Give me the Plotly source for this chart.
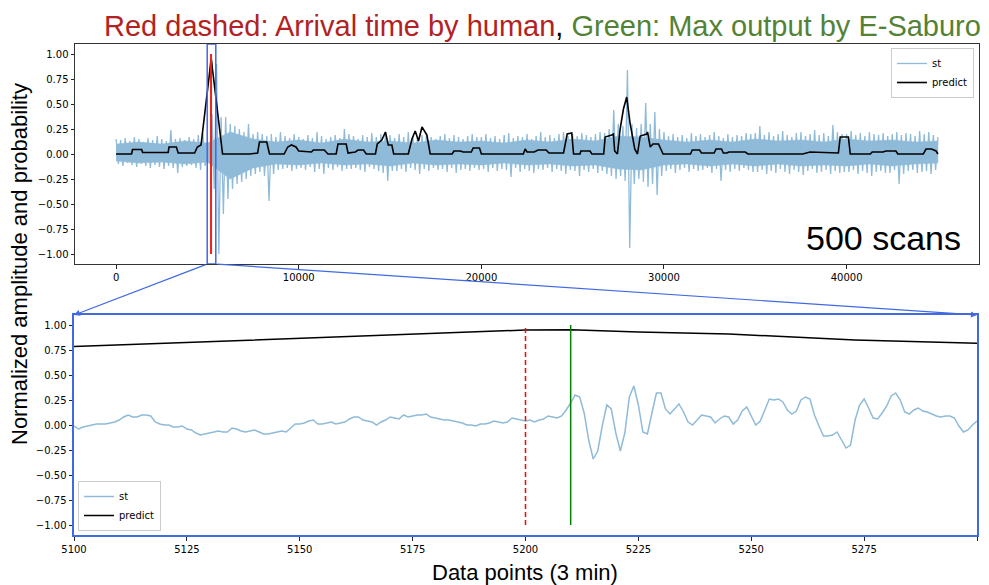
import plotly.graph_objects as go

# ---------------------------------------------------------------- data
# overview trace envelope: max / min of the normalized waveform per 250-sample block
ENV_STEP = 250
st_env_hi = [
    .15, .14, .16, .13, .17, .15, .12, .16, .14, .18, .15, .13, .24, .15, .16, .14, .17, .15, .19, .21,
    .12, .40, .90, .37, .37, .30, .28, .25, .22, .30, .20, .22, .20, .18, .20, .17, .22, .18, .16, .20,
    .17, .15, .19, .16, .22, .18, .15, .17, .19, .16, .25, .20, .18, .15, .19, .17, .21, .17, .20, .22,
    .19, .16, .20, .17, .22, .18, .16, .19, .21, .17, .15, .18, .20, .16, .19, .17, .15, .18, .20, .17,
    .17, .20, .16, .18, .15, .19, .21, .16, .18, .17, .20, .15, .18, .22, .17, .19, .16, .20, .22, .18,
    .20, .18, .21, .19, .17, .20, .22, .21, .25, .44, .30, .28, .84, .30, .26, .30, .51, .30, .42, .25,
    .22, .18, .20, .17, .19, .16, .21, .18, .20, .17, .19, .22, .18, .16, .20, .17, .19, .18, .21, .20,
    .21, .28, .19, .22, .18, .20, .23, .19, .17, .21, .22, .18, .20, .24, .19, .21, .18, .29, .22, .20,
    .20, .23, .19, .21, .18, .22, .20, .19, .21, .18, .20, .22, .19, .21, .20, .18, .23, .20, .22, .19,
    .17,
]
st_env_lo = [
    -.10, -.12, -.09, -.11, -.13, -.10, -.12, -.14, -.11, -.13, -.15, -.12, -.14, -.19, -.13, -.12, -.11, -.14, -.16, -.12,
    -.10, -.35, -1.0, -.60, -.45, -.35, -.30, -.28, -.25, -.22, -.20, -.18, -.22, -.47, -.20, -.16, -.15, -.14, -.17, -.15,
    -.14, -.16, -.13, -.18, -.15, -.20, -.14, -.16, -.13, -.17, -.15, -.15, -.14, -.16, -.18, -.13, -.15, -.17, -.19, -.27,
    -.17, -.17, -.15, -.18, -.14, -.16, -.20, -.15, -.17, -.14, -.16, -.15, -.18, -.14, -.19, -.16, -.15, -.17, -.14, -.16,
    -.15, -.18, -.14, -.17, -.15, -.16, -.23, -.14, -.18, -.15, -.17, -.19, -.15, -.16, -.14, -.18, -.15, -.17, -.20, -.16,
    -.17, -.22, -.16, -.18, -.15, -.19, -.17, -.20, -.22, -.25, -.22, -.27, -.94, -.30, -.25, -.28, -.33, -.30, -.41, -.22,
    -.17, -.15, -.19, -.16, -.14, -.18, -.15, -.17, -.16, -.14, -.19, -.15, -.27, -.16, -.18, -.15, -.17, -.14, -.16, -.18,
    -.18, -.16, -.20, -.17, -.19, -.15, -.18, -.20, -.16, -.18, -.21, -.17, -.15, -.19, -.18, -.16, -.20, -.17, -.19, -.18,
    -.18, -.16, -.20, -.17, -.19, -.22, -.18, -.17, -.19, -.19, -.16, -.30, -.20, -.17, -.16, -.19, -.18, -.17, -.20, -.16,
]

# dense part of the overview waveform (level reached by most samples), every 1250 samples
CORE_STEP = 1250
st_core_hi = [
    .10, .12, .10, .13, .11, .22, .15, .12, .14, .11, .15, .12, .13, .11, .14, .12, .13, .11, .14,
    .12, .15, .13, .18, .17, .14, .12, .14, .12, .15, .13, .14, .12, .15, .13, .14, .12, .13,
]
st_core_lo = [
    -.07, -.09, -.08, -.10, -.08, -.25, -.14, -.10, -.11, -.09, -.11, -.10, -.12, -.09, -.11, -.10, -.11, -.09, -.11,
    -.10, -.12, -.11, -.15, -.16, -.11, -.10, -.12, -.10, -.12, -.10, -.12, -.11, -.12, -.10, -.12, -.10, -.09,
]

# detailed waveform, samples 5100 .. 5300
detail_start = 5100
st_detail = [
    -0.01, -0.04, -0.02, -0.01, 0.00, 0.01, 0.01, 0.01, 0.02, 0.03,
    0.05, 0.08, 0.10, 0.08, 0.08, 0.10, 0.10, 0.09, 0.03, 0.01,
    0.00, 0.00, -0.02, -0.02, -0.01, -0.04, -0.05, -0.08, -0.10, -0.09,
    -0.08, -0.07, -0.06, -0.07, -0.07, -0.03, -0.04, -0.06, -0.07, -0.06,
    -0.05, -0.07, -0.09, -0.09, -0.08, -0.07, -0.06, -0.07, -0.03, 0.01,
    0.01, 0.02, 0.04, 0.05, 0.01, 0.01, 0.02, 0.03, 0.01, 0.02,
    0.03, 0.06, 0.08, 0.08, 0.05, 0.04, 0.03, 0.00, 0.03, 0.05,
    0.08, 0.07, 0.06, 0.10, 0.08, 0.09, 0.10, 0.10, 0.11, 0.08,
    0.07, 0.06, 0.05, 0.05, 0.04, 0.03, 0.02, 0.00, 0.00, -0.01,
    0.01, 0.01, 0.02, 0.04, 0.03, 0.02, 0.03, 0.07, 0.06, 0.05,
    0.04, 0.05, 0.03, 0.05, 0.06, 0.09, 0.08, 0.07, 0.09, 0.15,
    0.22, 0.30, 0.28, 0.12, -0.15, -0.34, -0.26, -0.01, 0.20, 0.16,
    -0.08, -0.26, -0.08, 0.28, 0.39, 0.20, -0.07, -0.09, 0.12, 0.32,
    0.32, 0.16, 0.11, 0.16, 0.21, 0.13, 0.03, 0.00, 0.05, 0.10,
    0.09, 0.08, 0.02, 0.06, 0.09, 0.08, 0.01, 0.05, 0.14, 0.18,
    0.09, 0.00, 0.04, 0.15, 0.26, 0.25, 0.26, 0.23, 0.15, 0.11,
    0.14, 0.25, 0.28, 0.26, 0.10, -0.01, -0.11, -0.11, -0.10, -0.07,
    -0.15, -0.23, -0.20, 0.05, 0.20, 0.26, 0.17, 0.07, 0.06, 0.12,
    0.19, 0.29, 0.32, 0.25, 0.13, 0.11, 0.15, 0.17, 0.14, 0.13,
    0.11, 0.09, 0.08, 0.09, 0.09, 0.07, -0.01, -0.07, -0.05, 0.00,
    0.04,
]

# network output (probability), sample index -> value
pred_x = [
    0, 850, 900, 1400, 1450, 2850, 2900, 3300, 3400, 4300, 4450, 4650,
    5100, 5150, 5175, 5200, 5210, 5225, 5245, 5273, 5300, 5830,
    7300, 7750, 7850, 8250, 8400, 9200, 9400, 9600, 9850, 10000,
    10700, 10800, 11400, 11600, 12050, 12150, 12600, 12700, 13100, 13250,
    13550, 13700, 14200, 14300, 14550, 14750, 14900, 15100, 15200, 16000,
    16200, 16380, 16560, 16750, 17020, 17200, 18400, 18500, 18850, 19000,
    19450, 19550, 19900, 20000, 22300, 22400, 22500, 22900, 23100, 23550,
    23700, 24500, 24700, 24950, 25050, 25400, 25450, 25950, 26050, 26700,
    26780, 27140, 27230, 27300, 27450, 27600, 27780, 27960, 28150, 28400,
    28550, 28700, 29050, 29100, 29250, 29400, 29700, 29950, 31450, 31550,
    31950, 32050, 32750, 32850, 33150, 33250, 33450, 33550, 34450, 34600,
    37600, 38000, 39550, 39650, 40100, 40200, 41300, 41400, 42000, 42150,
    42700, 42800, 44200, 44350, 44650, 44900, 45000,
]
pred_y = [
    0.0, 0.0, 0.045, 0.045, 0.015, 0.015, 0.07, 0.07, 0.01, 0.01, 0.07, 0.09,
    0.784, 0.867, 0.91, 0.95, 0.953, 0.93, 0.91, 0.85, 0.817, 0.0,
    0.0, 0.01, 0.12, 0.12, 0.0, 0.0, 0.07, 0.09, 0.07, 0.03,
    0.02, 0.04, 0.04, 0.0, 0.0, 0.10, 0.10, 0.01, 0.02, 0.04,
    0.04, 0.0, 0.0, 0.10, 0.14, 0.22, 0.09, 0.09, 0.0, 0.0,
    0.15, 0.23, 0.13, 0.27, 0.19, 0.0, 0.0, 0.03, 0.03, 0.02,
    0.02, 0.06, 0.06, 0.0, 0.0, 0.05, 0.02, 0.02, 0.04, 0.04,
    0.01, 0.01, 0.20, 0.21, 0.0, 0.0, 0.03, 0.03, 0.0, 0.0,
    0.17, 0.19, 0.20, 0.03, 0.0, 0.25, 0.45, 0.57, 0.30, 0.05,
    0.0, 0.18, 0.20, 0.22, 0.07, 0.10, 0.10, 0.0, 0.0, 0.04,
    0.04, 0.01, 0.01, 0.05, 0.05, 0.01, 0.01, 0.02, 0.02, 0.0,
    0.0, 0.02, 0.01, 0.17, 0.17, 0.0, 0.0, 0.02, 0.02, 0.03,
    0.03, 0.0, 0.0, 0.05, 0.05, 0.03, 0.0,
]

arrival_human = 5200      # manual pick
max_output = 5210         # sample of maximum network output
marker_span = [-1.0, 1.0]

top_xticks = [0, 10000, 20000, 30000, 40000]
bottom_xticks = [5100, 5125, 5150, 5175, 5200, 5225, 5250, 5275, 5300]
yticks = [-1.0, -0.75, -0.5, -0.25, 0.0, 0.25, 0.5, 0.75, 1.0]

# ---------------------------------------------------------------- style
W, H = 989, 585
ST_COLOR = "#8fbbd9"
BOX_COLOR = "royalblue"
TICK_FONT = dict(family="DejaVu Sans", size=10, color="black")
TEXT_FONT = "Liberation Sans, Arial, sans-serif"

top_dom_x = [75 / W, 979 / W]
top_dom_y = [1 - 264 / H, 1 - 44 / H]
bot_dom_x = [74 / W, 977 / W]
bot_dom_y = [1 - 535 / H, 1 - 315 / H]
top_range_x = [-2250, 47250]
bot_range_x = [5100, 5300]
y_range = [-1.1, 1.1]
inset_box = (4990, 5460)

# ---------------------------------------------------------------- traces
half = ENV_STEP // 2
hi_x = [i * ENV_STEP for i in range(len(st_env_hi))]
lo_x = [i * ENV_STEP + half for i in range(len(st_env_lo))]

# zig-zag through the block extremes
ov_x, ov_y = [], []
for i, hi in enumerate(st_env_hi):
    ov_x.append(hi_x[i])
    ov_y.append(hi)
    if i < len(st_env_lo):
        ov_x.append(lo_x[i])
        ov_y.append(st_env_lo[i])

# solid dense band
core_x = [i * CORE_STEP for i in range(len(st_core_hi))]
band_x = core_x + core_x[::-1]
band_y = st_core_hi + st_core_lo[::-1]

detail_x = [detail_start + i for i in range(len(st_detail))]

fig = go.Figure()

# overview panel
fig.add_trace(go.Scatter(x=band_x, y=band_y, mode="lines", fill="toself",
                         fillcolor=ST_COLOR, line=dict(color=ST_COLOR, width=0.5),
                         showlegend=False, hoverinfo="skip", xaxis="x", yaxis="y"))
fig.add_trace(go.Scatter(x=ov_x, y=ov_y, mode="lines", name="st",
                         line=dict(color=ST_COLOR, width=1.3, simplify=False),
                         xaxis="x", yaxis="y", legend="legend"))
fig.add_trace(go.Scatter(x=pred_x, y=pred_y, mode="lines", name="predict",
                         line=dict(color="black", width=1.6, simplify=False),
                         xaxis="x", yaxis="y", legend="legend"))
fig.add_trace(go.Scatter(x=[max_output, max_output], y=marker_span, mode="lines",
                         line=dict(color="green", width=1.5), showlegend=False,
                         xaxis="x", yaxis="y", hoverinfo="skip"))
fig.add_trace(go.Scatter(x=[arrival_human, arrival_human], y=marker_span, mode="lines",
                         line=dict(color="#f02020", width=2), showlegend=False,
                         xaxis="x", yaxis="y", hoverinfo="skip"))

# zoomed panel
fig.add_trace(go.Scatter(x=detail_x, y=st_detail, mode="lines", name="st",
                         line=dict(color=ST_COLOR, width=1.5, simplify=False),
                         xaxis="x2", yaxis="y2", legend="legend2"))
fig.add_trace(go.Scatter(x=pred_x, y=pred_y, mode="lines", name="predict",
                         line=dict(color="black", width=1.5),
                         xaxis="x2", yaxis="y2", legend="legend2"))
fig.add_trace(go.Scatter(x=[arrival_human, arrival_human], y=marker_span, mode="lines",
                         line=dict(color="red", width=1.5, dash="5px,3px"), showlegend=False,
                         xaxis="x2", yaxis="y2", hoverinfo="skip"))
fig.add_trace(go.Scatter(x=[max_output, max_output], y=marker_span, mode="lines",
                         line=dict(color="green", width=1.5), showlegend=False,
                         xaxis="x2", yaxis="y2", hoverinfo="skip"))

# ---------------------------------------------------------------- axes
common = dict(showgrid=False, zeroline=False, ticks="outside", ticklen=3.5,
              tickwidth=1, tickcolor="#222", tickfont=TICK_FONT, showline=True,
              mirror=True, automargin=False)

fig.update_layout(
    width=W, height=H,
    margin=dict(l=0, r=0, t=0, b=0),
    paper_bgcolor="white", plot_bgcolor="white",
    xaxis=dict(domain=top_dom_x, range=top_range_x, tickvals=top_xticks, tickformat="d",
               anchor="y", linecolor="#333", linewidth=1, **common),
    yaxis=dict(domain=top_dom_y, range=y_range, tickvals=yticks, tickformat=".2f",
               anchor="x", linecolor="#333", linewidth=1, **common),
    xaxis2=dict(domain=bot_dom_x, range=[bot_range_x[0] - 1e-3, bot_range_x[1] + 1e-3],
                tickvals=bottom_xticks, tickformat="d",
                anchor="y2", linecolor=BOX_COLOR, linewidth=2, **common),
    yaxis2=dict(domain=bot_dom_y, range=y_range, tickvals=yticks, tickformat=".2f",
                anchor="x2", linecolor=BOX_COLOR, linewidth=2, **common),
    legend=dict(x=974 / W, y=1 - 48 / H, xanchor="right", yanchor="top",
                bgcolor="white", bordercolor="#cccccc", borderwidth=1,
                font=dict(family="DejaVu Sans", size=10, color="black"),
                tracegroupgap=0, itemwidth=30),
    legend2=dict(x=78 / W, y=1 - 531 / H, xanchor="left", yanchor="bottom",
                 bgcolor="white", bordercolor="#cccccc", borderwidth=1,
                 font=dict(family="DejaVu Sans", size=10, color="black"),
                 tracegroupgap=0, itemwidth=30),
    showlegend=True,
)

# zoom window on the overview panel
fig.add_shape(type="rect", xref="x", yref="y", x0=inset_box[0], x1=inset_box[1],
              y0=y_range[0], y1=y_range[1], line=dict(color=BOX_COLOR, width=1.5))


def top_px(xv):
    frac = (xv - top_range_x[0]) / (top_range_x[1] - top_range_x[0])
    return (top_dom_x[0] + frac * (top_dom_x[1] - top_dom_x[0])) * W


tail_y = (1 - top_dom_y[0]) * H
head_y = (1 - bot_dom_y[1]) * H
for box_edge, head_x in ((inset_box[0], bot_range_x[0]), (inset_box[1], bot_range_x[1])):
    head_px = (bot_dom_x[0] + (head_x - bot_range_x[0]) / (bot_range_x[1] - bot_range_x[0])
               * (bot_dom_x[1] - bot_dom_x[0])) * W
    fig.add_annotation(x=head_x, y=y_range[1], xref="x2", yref="y2",
                       ax=top_px(box_edge) - head_px, ay=tail_y - head_y,
                       axref="pixel", ayref="pixel", text="", showarrow=True,
                       arrowhead=2, arrowsize=1, arrowwidth=1.2,
                       arrowcolor=BOX_COLOR, standoff=0)

# ---------------------------------------------------------------- text
fig.add_annotation(
    text=("<span style='color:#b22222'>Red dashed: Arrival time by human</span>, "
          "<span style='color:#548235'>Green: Max output by E-Saburo</span>"),
    xref="paper", yref="paper", x=983 / W, y=1 - 26 / H, xanchor="right", yanchor="middle",
    showarrow=False, font=dict(family=TEXT_FONT, size=29, color="black"))
fig.add_annotation(text="500 scans", xref="paper", yref="paper", x=963 / W, y=1 - 238 / H,
                   xanchor="right", yanchor="middle", showarrow=False,
                   font=dict(family=TEXT_FONT, size=34, color="black"))
fig.add_annotation(text="Normalized amplitude and probability", xref="paper", yref="paper",
                   x=20 / W, y=1 - 264 / H, xanchor="center", yanchor="middle",
                   textangle=-90, showarrow=False,
                   font=dict(family=TEXT_FONT, size=22, color="black"))
fig.add_annotation(text="Data points (3 min)", xref="paper", yref="paper",
                   x=524.5 / W, y=1 - 572 / H, xanchor="center", yanchor="middle",
                   showarrow=False, font=dict(family=TEXT_FONT, size=22, color="black"))

fig.write_html("out.html")
